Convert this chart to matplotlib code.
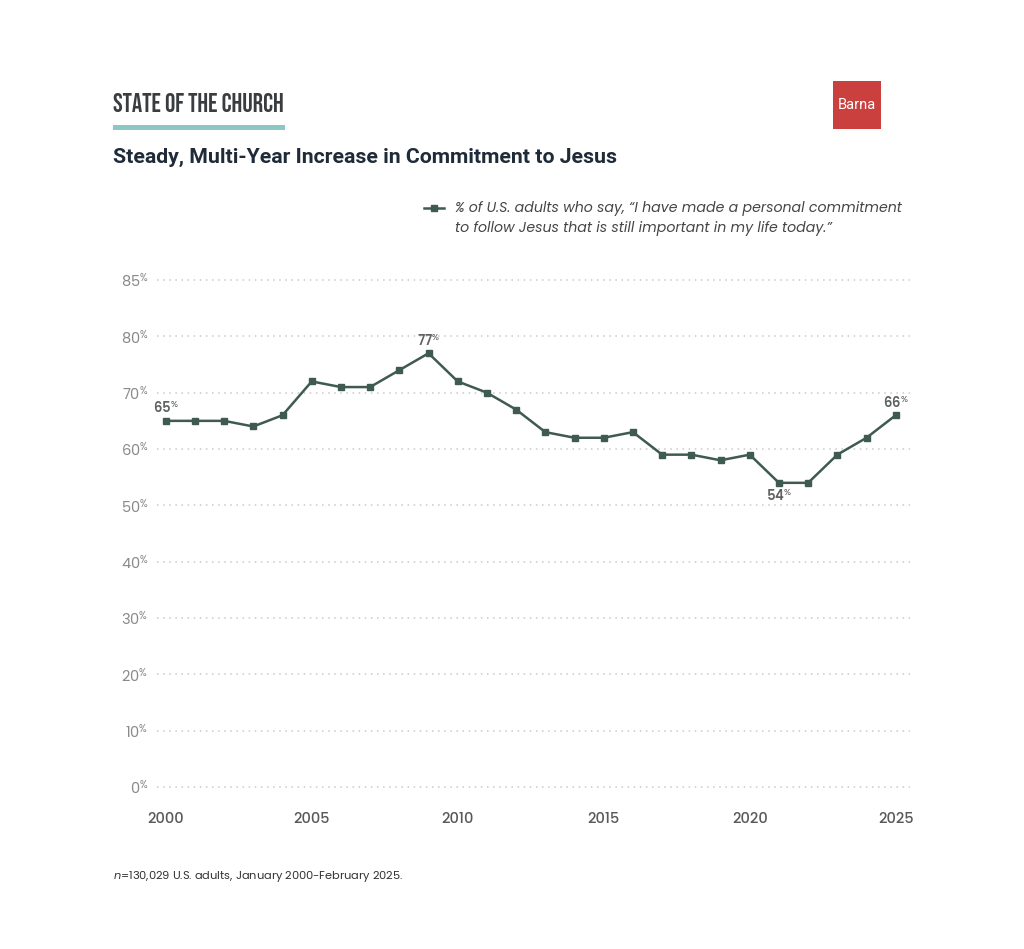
import matplotlib
matplotlib.use('Agg')
from matplotlib import pyplot as plt
from matplotlib.patches import Rectangle

# data
years = list(range(2000, 2026))
pct = [65, 65, 65, 64, 66, 72, 71, 71, 74, 77, 72, 70, 67,
       63, 62, 62, 63, 59, 59, 58, 59, 54, 54, 59, 62, 66]
ytick_pos = [0, 10, 20, 30, 40, 50, 60, 70, 80, 90]
ytick_lab = ['0', '10', '20', '30', '40', '50', '60', '70', '80', '85']
xtick_pos = [2000, 2005, 2010, 2015, 2020, 2025]
callouts = {2000: 'above', 2009: 'above', 2021: 'below', 2025: 'above'}

LINE = '#3f5a50'
GRID = '#c9c9c9'
TICK = '#8a8a8a'
BODY = ['Poppins', 'Open Sans', 'DejaVu Sans']

plt.rcParams['font.family'] = BODY
plt.rcParams['mathtext.fontset'] = 'custom'
plt.rcParams['mathtext.rm'] = 'Poppins'
plt.rcParams['mathtext.it'] = 'Poppins:italic'

fig = plt.figure(figsize=(10.24, 9.49), dpi=100)
fig.patch.set_facecolor('white')

ax = fig.add_axes([0.153, 0.1588, 0.736, 0.558])
ax.set_xlim(1999.69, 2025.5)
ax.set_ylim(-2, 92)

for y in ytick_pos:
    ax.axhline(y, color=GRID, lw=1.1, ls=(0, (1, 3)), zorder=1)

ax.plot(years, pct, color=LINE, lw=1.8, marker='s', ms=5,
        markerfacecolor=LINE, markeredgecolor=LINE, zorder=3)

for yr, pos in callouts.items():
    v = pct[years.index(yr)]
    off = 2.0 if pos == 'above' else -2.5
    ax.text(yr, v + off, str(v) + r'$^{\%}$', ha='center', va='center',
            fontsize=9.5, fontweight='semibold', color='#5f6360')

ax.set_yticks(ytick_pos)
ax.set_yticklabels([t + r'$^{\%}$' for t in ytick_lab])
ax.set_xticks(xtick_pos)
ax.set_xticklabels([str(x) for x in xtick_pos])
ax.tick_params(axis='y', length=0, pad=6, labelsize=10.5, labelcolor=TICK)
ax.tick_params(axis='x', length=0, pad=10, labelsize=10.5, labelcolor='#595959')
for lab in ax.get_xticklabels():
    lab.set_fontweight('medium')
for s in ax.spines.values():
    s.set_visible(False)

# header
fig.text(113 / 1024, 1 - 103 / 949, 'STATE OF THE CHURCH', fontsize=18.5,
         family=['Bebas Neue', 'Oswald', 'DejaVu Sans'], color='#3a3d40',
         ha='left', va='center')
fig.add_artist(Rectangle((113 / 1024, 1 - 130 / 949), 172 / 1024, 4.5 / 949,
                         transform=fig.transFigure, color='#8ec6c5', lw=0))
fig.text(113 / 1024, 1 - 157 / 949,
         'Steady, Multi-Year Increase in Commitment to Jesus',
         fontsize=15.3, fontweight='bold', family=['Roboto', 'DejaVu Sans'],
         color='#1f2b38', ha='left', va='center')

# Barna logo box
fig.add_artist(Rectangle((833 / 1024, 1 - 129 / 949), 48 / 1024, 48 / 949,
                         transform=fig.transFigure, color='#c9403f', lw=0))
fig.text(857 / 1024, 1 - 105 / 949, 'Barna', fontsize=10.5, color='white',
         family=['Roboto', 'DejaVu Sans'], ha='center', va='center')

# legend
ly = 1 - 208 / 949
fig.add_artist(plt.Line2D([424 / 1024, 444 / 1024], [ly, ly], color=LINE,
                          lw=1.8, transform=fig.transFigure))
fig.add_artist(plt.Line2D([434 / 1024], [ly], color=LINE, marker='s', ms=4.5,
                          transform=fig.transFigure))
fig.text(455 / 1024, ly,
         '% of U.S. adults who say, \u201cI have made a personal commitment',
         fontsize=10.2, style='italic', color='#454545', ha='left', va='center')
fig.text(455 / 1024, 1 - 228 / 949,
         'to follow Jesus that is still important in my life today.\u201d',
         fontsize=10.2, style='italic', color='#454545', ha='left', va='center')

# footnote
fig.text(113 / 1024, 1 - 876 / 949,
         r'$\mathit{n}$=130,029 U.S. adults, January 2000-February 2025.',
         fontsize=8.2, color='#333333', ha='left', va='center')

fig.savefig('out.png', dpi=100, facecolor='white')
